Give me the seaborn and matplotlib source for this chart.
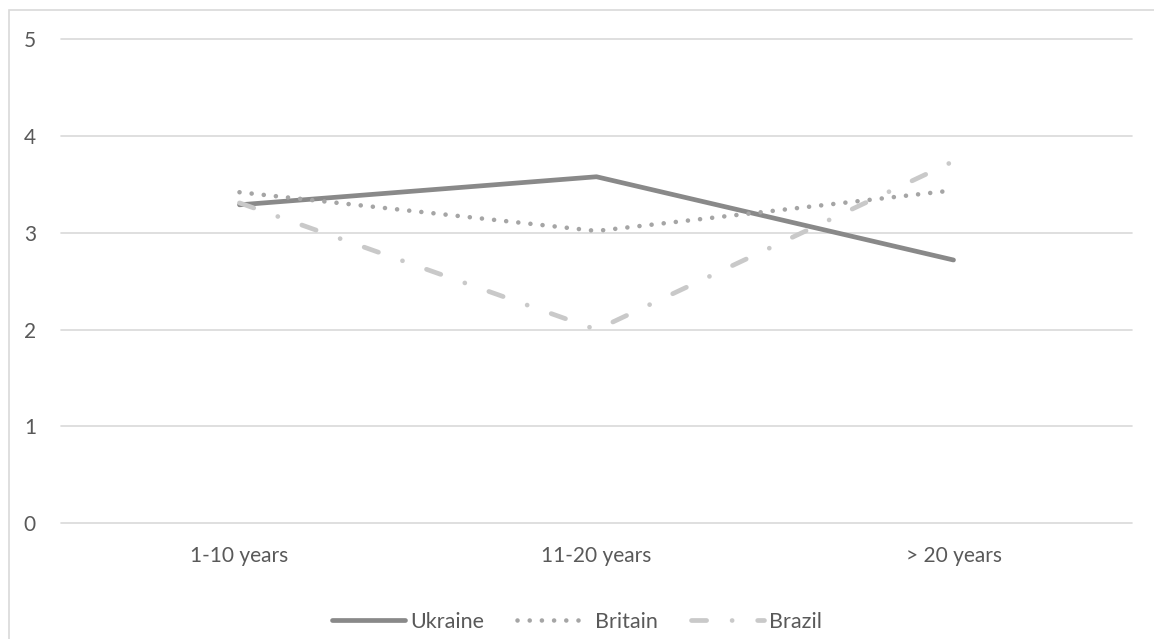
import matplotlib
matplotlib.use("Agg")
import matplotlib.pyplot as plt
import seaborn as sns
import pandas as pd
from matplotlib.patches import Rectangle

categories = ["1-10 years", "11-20 years", "> 20 years"]
ukraine = [3.29, 3.58, 2.72]
britain = [3.42, 3.02, 3.44]
brazil = [3.31, 2.00, 3.74]
series_names = ["Ukraine", "Britain", "Brazil"]
y_ticks = [0, 1, 2, 3, 4, 5]

df = pd.DataFrame({
    "period": categories * 3,
    "score": ukraine + britain + brazil,
    "country": [n for n in series_names for _ in categories],
})

sns.set_theme(style="white")
plt.rcParams["font.family"] = ["Lato", "DejaVu Sans"]

W, H = 1154, 639
fig = plt.figure(figsize=(W / 100, H / 100), dpi=100)
ax = fig.add_axes([61 / W, 1 - 523.3 / H, (1132 - 61) / W, (523.3 - 39.3) / H])

palette = {"Ukraine": "#898989", "Britain": "#a5a5a5", "Brazil": "#c9c9c9"}
sns.lineplot(data=df, x="period", y="score", hue="country", palette=palette,
             sort=False, ax=ax, legend=False)

styles = {
    "Ukraine": dict(lw=3.4, ls="-"),
    "Britain": dict(lw=3.3, ls=(0, (0.01, 2.65))),
    "Brazil": dict(lw=3.4, ls=(0, (3.2, 5.4, 0.01, 5.4))),
}
for line, name in zip(ax.get_lines(), series_names):
    line.set_linewidth(styles[name]["lw"])
    line.set_linestyle(styles[name]["ls"])
    line.set_solid_capstyle("round")
    line.set_dash_capstyle("round")
    line.set_label(name)

ax.set_xlim(-0.5, 2.5)
ax.set_ylim(0, 5)
ax.set_yticks(y_ticks)
ax.yaxis.grid(True, color="#d9d9d9", lw=1.2)
for g in ax.get_ygridlines():
    g.set_clip_on(False)
ax.set_axisbelow(True)
for s in ax.spines.values():
    s.set_visible(False)
ax.set_xlabel("")
ax.set_ylabel("")
ax.tick_params(axis="both", length=0, labelsize=15, colors="#595959")
ax.tick_params(axis="y", pad=18)
ax.tick_params(axis="x", pad=16)

leg = fig.legend(handles=ax.get_lines(), labels=series_names, loc="center",
                 bbox_to_anchor=(0.5, 1 - 622 / H), ncol=3, frameon=False,
                 fontsize=15.5, handlelength=3.4, handletextpad=0.25,
                 columnspacing=1.5, labelcolor="#595959")

fig.patches.append(Rectangle((9 / W, -0.05), 1.2, (H - 10) / H + 0.05,
                             transform=fig.transFigure, fill=False,
                             edgecolor="#d9d9d9", lw=1.2))

fig.savefig("out.png", dpi=100)
